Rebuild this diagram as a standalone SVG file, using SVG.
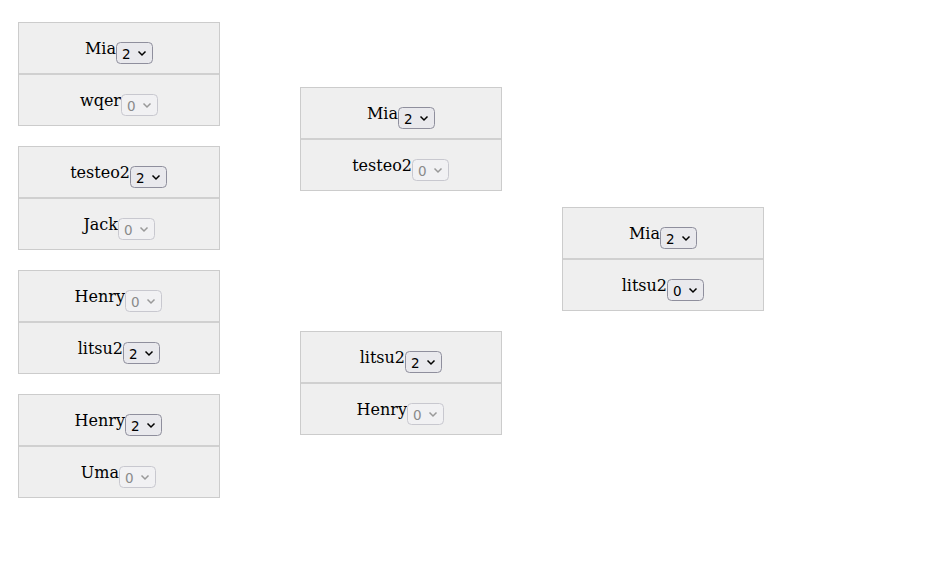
<svg xmlns="http://www.w3.org/2000/svg" width="930" height="566" viewBox="0 0 930 566">
<style>
.box{fill:#efefef;stroke:#cccccc;stroke-width:1}
.div{stroke:#d0d0d0;stroke-width:2}
.name{font-family:"DejaVu Serif",serif;font-size:16px;fill:#000;text-anchor:end}
.sel{fill:#e9e9ed;stroke:#8f8f9d;stroke-width:1}
.seld{fill:#f1f1f3;stroke:#c8c8cf;stroke-width:1}
.val{font-family:"DejaVu Sans","Liberation Sans",sans-serif;font-size:13.5px;fill:#000}
.vald{font-family:"DejaVu Sans","Liberation Sans",sans-serif;font-size:13.5px;fill:#8a8a8a}
.chev{fill:none;stroke:#000;stroke-width:1.5}
.chevd{fill:none;stroke:#999;stroke-width:1.5}
</style>
<rect width="930" height="566" fill="#ffffff"/>
<g id="connectors"></g>

<g id="match-c1-1">
<rect class="box" x="18.5" y="22.5" width="201" height="103"/>
<line class="div" x1="19" y1="74" x2="219" y2="74"/>
<text class="name" x="116" y="54">Mia</text>
<rect class="sel" x="116.5" y="42.5" width="36" height="21" rx="4"/>
<text class="val" x="122" y="59">2</text>
<path class="chev" d="M138.5 51.5 L142 55 L145.5 51.5"/>
<text class="name" x="121" y="106">wqer</text>
<rect class="seld" x="121.5" y="94.5" width="36" height="21" rx="4"/>
<text class="vald" x="127" y="111">0</text>
<path class="chevd" d="M143.5 103.5 L147 107 L150.5 103.5"/>
</g>

<g id="match-c1-2">
<rect class="box" x="18.5" y="146.5" width="201" height="103"/>
<line class="div" x1="19" y1="198" x2="219" y2="198"/>
<text class="name" x="130" y="178">testeo2</text>
<rect class="sel" x="130.5" y="166.5" width="36" height="21" rx="4"/>
<text class="val" x="136" y="183">2</text>
<path class="chev" d="M152.5 175.5 L156 179 L159.5 175.5"/>
<text class="name" x="118" y="230">Jack</text>
<rect class="seld" x="118.5" y="218.5" width="36" height="21" rx="4"/>
<text class="vald" x="124" y="235">0</text>
<path class="chevd" d="M140.5 227.5 L144 231 L147.5 227.5"/>
</g>

<g id="match-c1-3">
<rect class="box" x="18.5" y="270.5" width="201" height="103"/>
<line class="div" x1="19" y1="322" x2="219" y2="322"/>
<text class="name" x="125" y="302">Henry</text>
<rect class="seld" x="125.5" y="290.5" width="36" height="21" rx="4"/>
<text class="vald" x="131" y="307">0</text>
<path class="chevd" d="M147.5 299.5 L151 303 L154.5 299.5"/>
<text class="name" x="123" y="354">litsu2</text>
<rect class="sel" x="123.5" y="342.5" width="36" height="21" rx="4"/>
<text class="val" x="129" y="359">2</text>
<path class="chev" d="M145.5 351.5 L149 355 L152.5 351.5"/>
</g>

<g id="match-c1-4">
<rect class="box" x="18.5" y="394.5" width="201" height="103"/>
<line class="div" x1="19" y1="446" x2="219" y2="446"/>
<text class="name" x="125" y="426">Henry</text>
<rect class="sel" x="125.5" y="414.5" width="36" height="21" rx="4"/>
<text class="val" x="131" y="431">2</text>
<path class="chev" d="M147.5 423.5 L151 427 L154.5 423.5"/>
<text class="name" x="119" y="478">Uma</text>
<rect class="seld" x="119.5" y="466.5" width="36" height="21" rx="4"/>
<text class="vald" x="125" y="483">0</text>
<path class="chevd" d="M141.5 475.5 L145 479 L148.5 475.5"/>
</g>

<g id="match-c2-1">
<rect class="box" x="300.5" y="87.5" width="201" height="103"/>
<line class="div" x1="301" y1="139" x2="501" y2="139"/>
<text class="name" x="398" y="119">Mia</text>
<rect class="sel" x="398.5" y="107.5" width="36" height="21" rx="4"/>
<text class="val" x="404" y="124">2</text>
<path class="chev" d="M420.5 116.5 L424 120 L427.5 116.5"/>
<text class="name" x="412" y="171">testeo2</text>
<rect class="seld" x="412.5" y="159.5" width="36" height="21" rx="4"/>
<text class="vald" x="418" y="176">0</text>
<path class="chevd" d="M434.5 168.5 L438 172 L441.5 168.5"/>
</g>

<g id="match-c2-2">
<rect class="box" x="300.5" y="331.5" width="201" height="103"/>
<line class="div" x1="301" y1="383" x2="501" y2="383"/>
<text class="name" x="405" y="363">litsu2</text>
<rect class="sel" x="405.5" y="351.5" width="36" height="21" rx="4"/>
<text class="val" x="411" y="368">2</text>
<path class="chev" d="M427.5 360.5 L431 364 L434.5 360.5"/>
<text class="name" x="407" y="415">Henry</text>
<rect class="seld" x="407.5" y="403.5" width="36" height="21" rx="4"/>
<text class="vald" x="413" y="420">0</text>
<path class="chevd" d="M429.5 412.5 L433 416 L436.5 412.5"/>
</g>

<g id="match-c3-1">
<rect class="box" x="562.5" y="207.5" width="201" height="103"/>
<line class="div" x1="563" y1="259" x2="763" y2="259"/>
<text class="name" x="660" y="239">Mia</text>
<rect class="sel" x="660.5" y="227.5" width="36" height="21" rx="4"/>
<text class="val" x="666" y="244">2</text>
<path class="chev" d="M682.5 236.5 L686 240 L689.5 236.5"/>
<text class="name" x="667" y="291">litsu2</text>
<rect class="sel" x="667.5" y="279.5" width="36" height="21" rx="4"/>
<text class="val" x="673" y="296">0</text>
<path class="chev" d="M689.5 288.5 L693 292 L696.5 288.5"/>
</g>
</svg>
